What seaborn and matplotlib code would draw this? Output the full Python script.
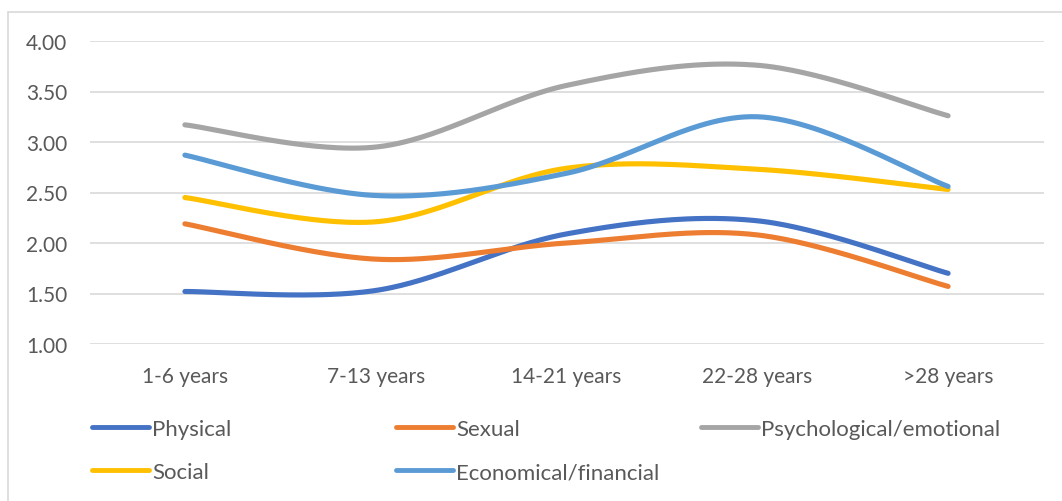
import numpy as np
import pandas as pd
import matplotlib
matplotlib.use("Agg")
import matplotlib.pyplot as plt
from matplotlib.lines import Line2D
import seaborn as sns

# Average scores by years of marriage
periods = ["1-6 years", "7-13 years", "14-21 years", "22-28 years", ">28 years"]
physical = [1.52, 1.53, 2.09, 2.22, 1.70]
sexual = [2.19, 1.84, 2.00, 2.08, 1.57]
psychological = [3.17, 2.95, 3.56, 3.76, 3.26]
social = [2.45, 2.21, 2.74, 2.73, 2.53]
economical = [2.87, 2.47, 2.69, 3.25, 2.56]

series_names = ["Physical", "Sexual", "Psychological/emotional", "Social", "Economical/financial"]
series_values = [physical, sexual, psychological, social, economical]
colors = ["#4472C4", "#ED7D31", "#A5A5A5", "#FFC000", "#5B9BD5"]


def smooth(xs, ys, n=60):
    """Cardinal (Catmull-Rom) Bezier smoothing through every point."""
    pts = np.column_stack([xs, ys]).astype(float)
    padded = np.vstack([pts[0], pts, pts[-1]])
    out = []
    t = np.linspace(0, 1, n)[:, None]
    for i in range(len(pts) - 1):
        p0, p1, p2, p3 = padded[i], padded[i + 1], padded[i + 2], padded[i + 3]
        c1 = p1 + (p2 - p0) / 6.0
        c2 = p2 - (p3 - p1) / 6.0
        seg = ((1 - t) ** 3) * p1 + 3 * ((1 - t) ** 2) * t * c1 + 3 * (1 - t) * t ** 2 * c2 + t ** 3 * p2
        out.append(seg if i == 0 else seg[1:])
    curve = np.vstack(out)
    return curve[:, 0], curve[:, 1]


frames = []
x_idx = np.arange(len(periods))
for name, vals in zip(series_names, series_values):
    sx, sy = smooth(x_idx, vals)
    frames.append(pd.DataFrame({"x": sx, "score": sy, "series": name, "order": np.arange(len(sx))}))
df = pd.concat(frames, ignore_index=True)

sns.set_theme(style="white")
plt.rcParams["font.family"] = ["Lato", "DejaVu Sans"]

W, H = 1062, 502
fig = plt.figure(figsize=(W / 100, H / 100), dpi=100)
ax = fig.add_axes([89.5 / W, 1 - 345 / H, (1043.5 - 89.5) / W, (345 - 42) / H])

sns.lineplot(data=df, x="x", y="score", hue="series", hue_order=series_names,
             palette=colors, units="series", estimator=None, sort=False,
             linewidth=3.7, legend=False, ax=ax, solid_capstyle="round")

ax.set_xlim(-0.5, len(periods) - 0.5)
ax.set_ylim(1.0, 4.0)
ax.set_yticks(np.arange(1.0, 4.01, 0.5))
ax.set_yticklabels([f"{v:.2f}" for v in np.arange(1.0, 4.01, 0.5)])
ax.set_xticks(x_idx)
ax.set_xticklabels(periods)
ax.grid(axis="y", color="#d9d9d9", linewidth=1.2)
ax.set_axisbelow(True)
for s in ax.spines.values():
    s.set_visible(False)
ax.set_xlabel("")
ax.set_ylabel("")
ax.tick_params(axis="y", length=0, pad=16, labelsize=15, labelcolor="#595959")
ax.tick_params(axis="x", length=0, pad=16, labelsize=15, labelcolor="#595959")

# Legend entries laid out in two rows
legend_pos = [(92, 430), (396, 430), (701, 430), (92, 473), (396, 473)]
for name, color, (lx, ly) in zip(series_names, colors, legend_pos):
    h = Line2D([], [], color=color, linewidth=3.5, solid_capstyle="round")
    fig.legend(handles=[h], labels=[name], loc="center left",
               bbox_to_anchor=(lx / W, 1 - ly / H), frameon=False,
               borderpad=0, borderaxespad=0, handlelength=2.55,
               handletextpad=0.15, fontsize=16, labelcolor="#595959")

# Chart border (left and top edges)
fig.add_artist(Line2D([8 / W, 8 / W], [0, 1 - 13 / H], color="#d9d9d9", linewidth=1.2))
fig.add_artist(Line2D([8 / W, 1], [1 - 13 / H, 1 - 13 / H], color="#d9d9d9", linewidth=1.2))

fig.savefig("out.png", dpi=100, facecolor="white")
